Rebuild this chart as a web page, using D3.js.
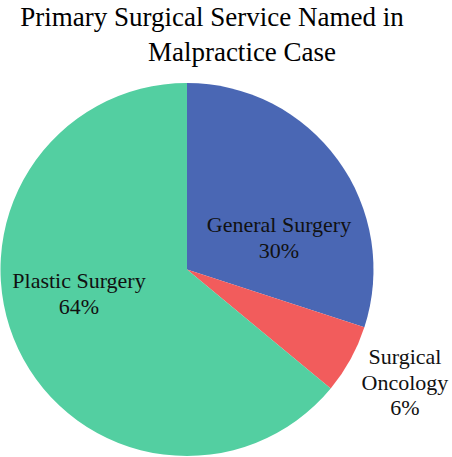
<!DOCTYPE html>
<html>
    <head>
        <meta charset="utf-8">
        <title>Primary Surgical Service</title>
        <style>
body {
    margin: 0;
    background-color: white;
    font-family: 'Liberation Serif', 'Times New Roman', serif;
}
</style>
        <script src="https://cdn.jsdelivr.net/npm/d3@7"></script>
    </head>
    <body>
        <script>
var width = 452,
    height = 457;

// data
var services = ['General Surgery', 'Surgical Oncology', 'Plastic Surgery'];
var shares = [30, 6, 64];
var colours = ['#4a67b4', '#f25c5c', '#53cfa1'];

// label lines per slice, and where they sit
var labelLines = [['General Surgery', '30%'], ['Surgical', 'Oncology', '6%'], ['Plastic Surgery', '64%']];
var labelPos = [[279, 232], [405, 364], [79, 288]];

var svg = d3.select('body')
    .append('svg')
    .attr('width', width)
    .attr('height', height);

svg.append('text')
    .attr('x', 212)
    .attr('y', 26)
    .attr('text-anchor', 'middle')
    .style('font-size', '27px')
    .text('Primary Surgical Service Named in');

svg.append('text')
    .attr('x', 242)
    .attr('y', 61)
    .attr('text-anchor', 'middle')
    .style('font-size', '27px')
    .text('Malpractice Case');

var radius = 186.5;

var pie = d3.pie()
    .sort(null)
    .value(function (d) { return d; });

var arc = d3.arc()
    .innerRadius(0)
    .outerRadius(radius);

var g = svg.append('g')
    .attr('transform', 'translate(187,269.5)');

g.selectAll('path')
    .data(pie(shares))
    .enter()
    .append('path')
    .attr('d', arc)
    .style('fill', function (d, i) { return colours[i]; });

var labels = svg.selectAll('.label')
    .data(services)
    .enter()
    .append('text')
    .attr('class', 'label')
    .attr('text-anchor', 'middle')
    .style('font-size', '22px')
    .style('fill', '#111');

labels.selectAll('tspan')
    .data(function (d, i) {
        return labelLines[i].map(function (t) { return {text: t, i: i}; });
    })
    .enter()
    .append('tspan')
    .attr('x', function (d) { return labelPos[d.i][0]; })
    .attr('y', function (d, j) { return labelPos[d.i][1] + j * 25.5; })
    .text(function (d) { return d.text; });

        </script>
    </body>
</html>
